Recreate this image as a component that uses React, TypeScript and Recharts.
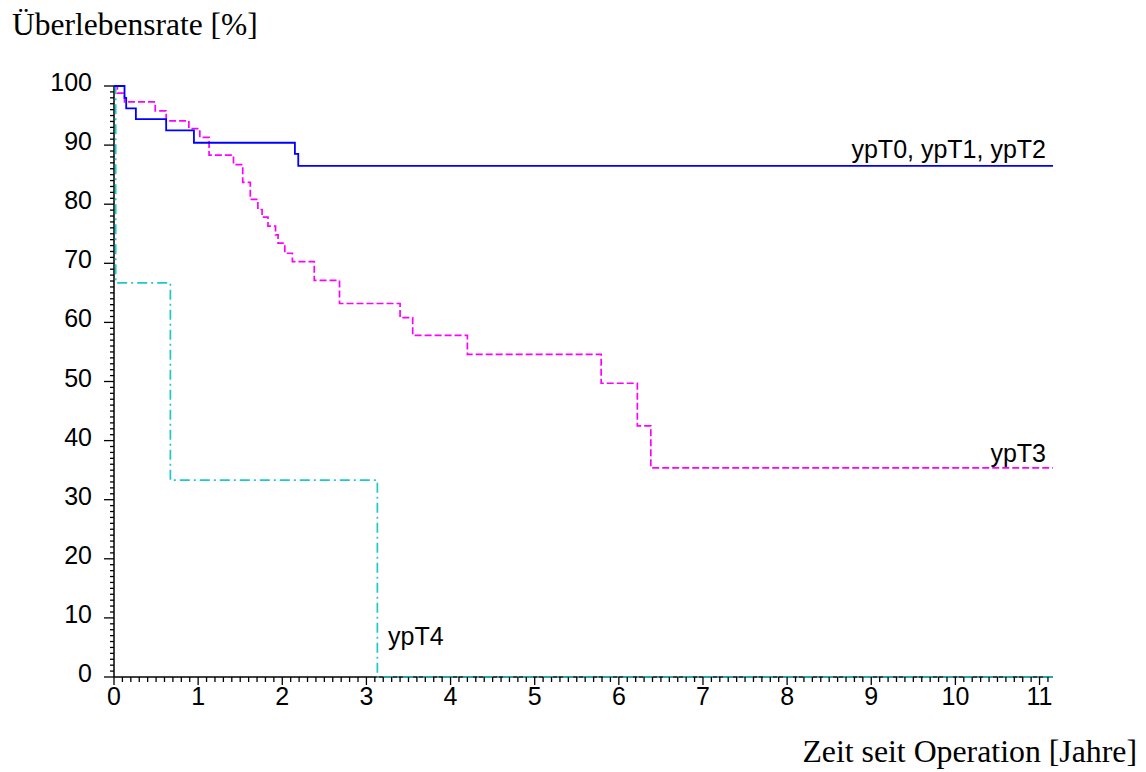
import React from 'react';
import { LineChart, Line, XAxis, YAxis } from 'recharts';

// Kaplan-Meier estimates (time in years, survival in %)
const t012Times = [0, 0.125, 0.145, 0.26, 0.62, 0.95, 2.15, 2.19, 11.16];
const t012Surv = [100, 98.0, 96.2, 94.4, 92.5, 90.4, 88.5, 86.5, 86.5];

const t3Times = [
  0, 0.04, 0.125, 0.49, 0.62, 0.89, 1.02, 1.13, 1.42, 1.53, 1.62, 1.71, 1.76, 1.83,
  1.92, 1.95, 2.03, 2.12, 2.38, 2.68, 3.4, 3.55, 4.2, 5.79, 6.22, 6.38, 11.16,
];
const t3Surv = [
  100, 98.8, 97.3, 95.8, 94.1, 92.8, 91.3, 88.3, 86.7, 83.7, 80.8, 79.1, 77.8, 76.3,
  74.8, 73.4, 71.7, 70.3, 67.1, 63.2, 60.8, 57.8, 54.6, 49.7, 42.5, 35.4, 35.4,
];

const t4Times = [0, 0.02, 0.67, 3.13, 11.16];
const t4Surv = [100, 66.7, 33.3, 0, 0];

const seriesLabels = ['ypT0, ypT1, ypT2', 'ypT3', 'ypT4'];
const yTitle = 'Überlebensrate [%]';
const xTitle = 'Zeit seit Operation [Jahre]';

const X_MAX = 11.16;
// minor ticks every 0.1 year / 1 %
const xTicks = Array.from({ length: 112 }, (_, i) => i / 10);
const yTicks = Array.from({ length: 101 }, (_, i) => i);

const toRows = (times: number[], surv: number[]) => times.map((t, i) => ({ t, s: surv[i] }));
const t012 = toRows(t012Times, t012Surv);
const t3 = toRows(t3Times, t3Surv);
const t4 = toRows(t4Times, t4Surv);

const sans = "Arial, 'Liberation Sans', sans-serif";
const serif = "'Times New Roman', 'Liberation Serif', serif";

const XTick = (props: any) => {
  const { x, y, payload } = props;
  const v = payload.value;
  const major = Math.abs(v - Math.round(v)) < 1e-6;
  return (
    <g>
      <line x1={x} y1={y} x2={x} y2={y + (major ? 8 : 5)} stroke="#000" strokeWidth={1.3} />
      {major && (
        <text x={x} y={y + 28} textAnchor="middle" fontSize={25} fontFamily={sans} fill="#000">
          {Math.round(v)}
        </text>
      )}
    </g>
  );
};

const YTick = (props: any) => {
  const { x, y, payload } = props;
  const v = payload.value;
  const major = v % 10 === 0;
  return (
    <g>
      <line x1={x} y1={y} x2={x - (major ? 10 : 4)} y2={y} stroke="#000" strokeWidth={1.3} />
      {major && (
        <text x={x - 22} y={y + 5} textAnchor="end" fontSize={25} fontFamily={sans} fill="#000">
          {v}
        </text>
      )}
    </g>
  );
};

const lineProps: any = { type: 'stepAfter', dataKey: 's', dot: false, isAnimationActive: false, zIndex: 600 };

const App = () => {
  return (
    <div style={{ position: 'absolute', left: 0, top: 0, width: 1146, height: 772, background: '#fff' }}>
      <LineChart width={1146} height={772} margin={{ top: 86, right: 93, bottom: 35, left: 54 }}>
        <XAxis
          dataKey="t"
          type="number"
          domain={[0, X_MAX]}
          ticks={xTicks}
          interval={0}
          height={60}
          tickSize={0}
          tickMargin={0}
          tickLine={false}
          tick={<XTick />}
          axisLine={{ stroke: '#000', strokeWidth: 1.5 }}
        />
        <YAxis
          type="number"
          domain={[0, 100]}
          ticks={yTicks}
          interval={0}
          width={60}
          tickSize={0}
          tickMargin={0}
          tickLine={false}
          tick={<YTick />}
          axisLine={{ stroke: '#000', strokeWidth: 1.5 }}
        />
        <Line {...lineProps} data={t4} stroke="#1ec8c8" strokeWidth={1.7} strokeDasharray="10 4 2 4" />
        <Line {...lineProps} data={t3} stroke="#ff00ff" strokeWidth={1.7} strokeDasharray="7 3" />
        <Line {...lineProps} data={t012} stroke="#0000ff" strokeWidth={1.8} />
      </LineChart>
      <svg width={1146} height={772} style={{ position: 'absolute', left: 0, top: 0, pointerEvents: 'none' }}>
        <text x={12} y={35} fontSize={31.5} fontFamily={serif} fill="#000">{yTitle}</text>
        <text x={1137} y={762} fontSize={31.8} fontFamily={serif} fill="#000" textAnchor="end">{xTitle}</text>
        <text x={1046} y={158} fontSize={25} fontFamily={sans} fill="#000" textAnchor="end">{seriesLabels[0]}</text>
        <text x={1046} y={462} fontSize={25} fontFamily={sans} fill="#000" textAnchor="end">{seriesLabels[1]}</text>
        <text x={388} y={645} fontSize={25} fontFamily={sans} fill="#000">{seriesLabels[2]}</text>
      </svg>
    </div>
  );
};

export default App;
